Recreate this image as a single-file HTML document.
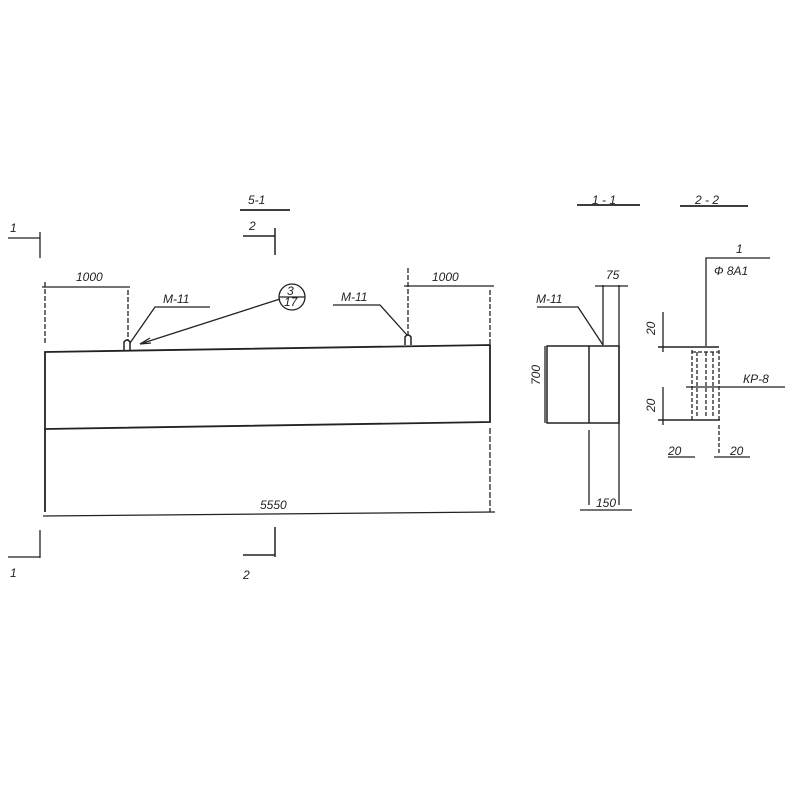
<!DOCTYPE html>
<html><head><meta charset="utf-8"><style>
html,body{margin:0;padding:0;background:#fff;width:800px;height:800px;overflow:hidden}
svg{display:block}
text{font-family:"Liberation Sans",sans-serif;font-style:italic;fill:#222;font-size:12px}
</style></head><body>
<svg width="800" height="800" viewBox="0 0 800 800" xmlns="http://www.w3.org/2000/svg">
<g stroke="#222" fill="none" stroke-width="1.3">
<!-- section marks left -->
<path d="M8 238H40M40 232V258"/>
<path d="M40 530V558M8 557H40"/>
<!-- 5-1 / 2 -->
<path d="M240 210H290" stroke-width="1.8"/>
<path d="M243 236H275M275 228V255" stroke-width="1.5"/>
<path d="M243 555H275M275 527V557" stroke-width="1.5"/>
<!-- beam -->
<path d="M45 352L490 345V422L45 429Z" stroke-width="1.8"/>
<path d="M45 429V512" stroke-width="1.8"/>
<path d="M490 428V512" stroke-dasharray="6 2"/>
<path d="M43 516L495 512"/>
<!-- bumps -->
<path d="M124 350V342Q127 338 130 342V350" stroke-width="1.5"/>
<path d="M405 345V337Q408 333 411 337V345" stroke-width="1.5"/>
<!-- left 1000 -->
<path d="M42 287H130"/>
<path d="M45 282V345M128 290V340" stroke-dasharray="5 2"/>
<!-- right 1000 -->
<path d="M404 286H494"/>
<path d="M408 268V335M490 290V345" stroke-dasharray="5 2"/>
<!-- M-11 leaders -->
<path d="M130 343L155 307H210"/>
<path d="M407 335L380 305H333"/>
<!-- circle & arrow -->
<circle cx="292" cy="297" r="13"/>
<path d="M280 299L140 344"/>
<path d="M140 344L150 338M140 344L151 343"/>
<path d="M279 297H305"/>
<!-- 1-1 -->
<path d="M577 205H640" stroke-width="1.8"/>
<path d="M547 346H619V423H547ZM589 346V423" stroke-width="1.5"/>
<path d="M603 285V345M619 285V505M589 430V505"/>
<path d="M595 286H628M580 510H632"/>
<path d="M537 307H578L603 345"/>
<path d="M545 346V423"/>
<!-- 2-2 -->
<path d="M680 206H748" stroke-width="1.8"/>
<path d="M706 346V258H770"/>
<path d="M658 347H719M658 420H720" stroke-width="1.5"/>
<path d="M692 350V421M719 350V421M697 352V418M706 352V418M713 352V418M692 352H719" stroke-dasharray="4 2"/>
<path d="M686 387H785"/>
<path d="M663 312V352M663 387V425"/>
<path d="M719 425V455" stroke-dasharray="4 2"/>
<path d="M668 457H695M714 457H750"/>
</g>
<text x="10" y="232">1</text>
<text x="10" y="577">1</text>
<text x="248" y="204">5-1</text>
<text x="249" y="230">2</text>
<text x="243" y="579">2</text>
<text x="76" y="281" font-size="11">1000</text>
<text x="432" y="281" font-size="11">1000</text>
<text x="163" y="303" font-size="11">М-11</text>
<text x="341" y="301" font-size="11">М-11</text>
<text x="287" y="295" font-size="9">3</text>
<text x="284" y="306" font-size="8">17</text>
<text x="260" y="509" font-size="11">5550</text>
<text x="592" y="204">1 - 1</text>
<text x="695" y="204">2 - 2</text>
<text x="606" y="279" font-size="11">75</text>
<text x="536" y="303" font-size="10">М-11</text>
<text x="540" y="385" font-size="11" transform="rotate(-90 540 385)">700</text>
<text x="596" y="507" font-size="11">150</text>
<text x="736" y="253">1</text>
<text x="714" y="275" font-size="11">Ф 8А1</text>
<text x="743" y="383" font-size="11">КР-8</text>
<text x="655" y="335" font-size="11" transform="rotate(-90 655 335)">20</text>
<text x="655" y="412" font-size="11" transform="rotate(-90 655 412)">20</text>
<text x="668" y="455" font-size="11">20</text>
<text x="730" y="455" font-size="11">20</text>
</svg>
</body></html>
